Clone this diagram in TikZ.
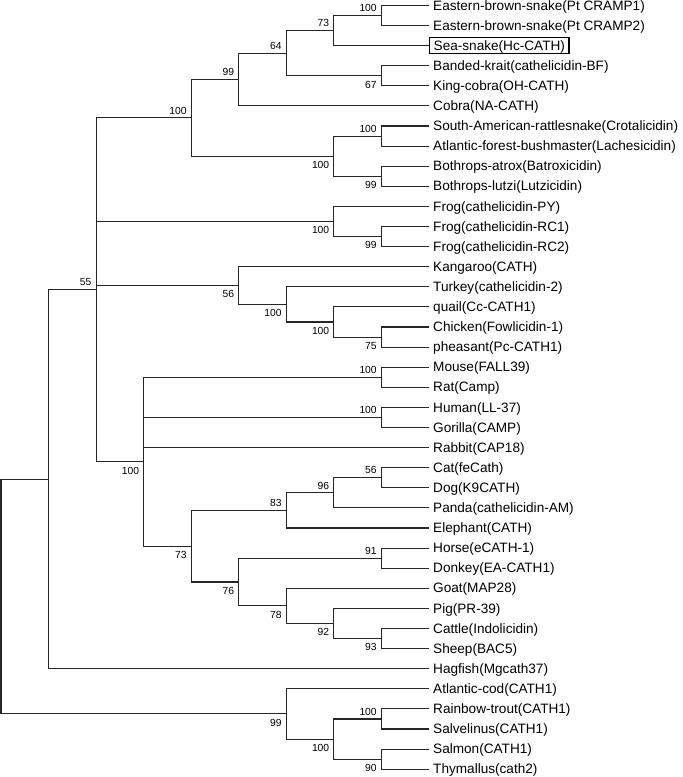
\documentclass[tikz,border=0pt]{standalone}
\usepackage{fontspec}
\setmainfont{Liberation Sans}
\newcommand\Yof[1]{{5.4+20.1*(#1-1)}}
\newcommand\leafnode[3]{%
  \coordinate (#1) at (429,\Yof{#2});
  \node[leaf] (#1t) at (429,{5.4+20.1*(#2-1)+4.6}) {#3};}
\begin{document}
\begin{tikzpicture}[x=1pt,y=-1pt,
  br/.style={line width=1.1pt, black!85},
  leaf/.style={anchor=base west, inner xsep=4pt, inner ysep=0pt, font=\fontsize{13.6}{15}\selectfont},
  boxed/.style={draw, line width=1.4pt, text height=10.6pt, text depth=1.4pt, inner ysep=2pt},
  bsa/.style={anchor=south east, inner sep=0pt, xshift=-4.5pt, yshift=3.5pt, font=\fontsize{10.3}{12}\selectfont},
  bsb/.style={anchor=north east, inner sep=0pt, xshift=-4.5pt, yshift=-5pt, font=\fontsize{10.3}{12}\selectfont}]
\useasboundingbox (0,0) rectangle (683,777);
% leaves
\leafnode{l1}{1}{Eastern-brown-snake(Pt CRAMP1)}
\leafnode{l2}{2}{Eastern-brown-snake(Pt CRAMP2)}
\coordinate (l3) at (429,\Yof{3});
\node[leaf,boxed] (l3t) at (429,{5.4+20.1*2+4.6}) {Sea-snake(Hc-CATH)};
\leafnode{l4}{4}{Banded-krait(cathelicidin-BF)}
\leafnode{l5}{5}{King-cobra(OH-CATH)}
\leafnode{l6}{6}{Cobra(NA-CATH)}
\leafnode{l7}{7}{South-American-rattlesnake(Crotalicidin)}
\leafnode{l8}{8}{Atlantic-forest-bushmaster(Lachesicidin)}
\leafnode{l9}{9}{Bothrops-atrox(Batroxicidin)}
\leafnode{l10}{10}{Bothrops-lutzi(Lutzicidin)}
\leafnode{l11}{11}{Frog(cathelicidin-PY)}
\leafnode{l12}{12}{Frog(cathelicidin-RC1)}
\leafnode{l13}{13}{Frog(cathelicidin-RC2)}
\leafnode{l14}{14}{Kangaroo(CATH)}
\leafnode{l15}{15}{Turkey(cathelicidin-2)}
\leafnode{l16}{16}{quail(Cc-CATH1)}
\leafnode{l17}{17}{Chicken(Fowlicidin-1)}
\leafnode{l18}{18}{pheasant(Pc-CATH1)}
\leafnode{l19}{19}{Mouse(FALL39)}
\leafnode{l20}{20}{Rat(Camp)}
\leafnode{l21}{21}{Human(LL-37)}
\leafnode{l22}{22}{Gorilla(CAMP)}
\leafnode{l23}{23}{Rabbit(CAP18)}
\leafnode{l24}{24}{Cat(feCath)}
\leafnode{l25}{25}{Dog(K9CATH)}
\leafnode{l26}{26}{Panda(cathelicidin-AM)}
\leafnode{l27}{27}{Elephant(CATH)}
\leafnode{l28}{28}{Horse(eCATH-1)}
\leafnode{l29}{29}{Donkey(EA-CATH1)}
\leafnode{l30}{30}{Goat(MAP28)}
\leafnode{l31}{31}{Pig(PR-39)}
\leafnode{l32}{32}{Cattle(Indolicidin)}
\leafnode{l33}{33}{Sheep(BAC5)}
\leafnode{l34}{34}{Hagfish(Mgcath37)}
\leafnode{l35}{35}{Atlantic-cod(CATH1)}
\leafnode{l36}{36}{Rainbow-trout(CATH1)}
\leafnode{l37}{37}{Salvelinus(CATH1)}
\leafnode{l38}{38}{Salmon(CATH1)}
\leafnode{l39}{39}{Thymallus(cath2)}
% internal nodes (y given as fractional leaf index)
\coordinate (npt) at (381.4,\Yof{1.5});
\coordinate (n73) at (333.9,\Yof{2.25});
\coordinate (nbk) at (381.4,\Yof{4.5});
\coordinate (n64) at (286.3,\Yof{3.375});
\coordinate (n99) at (238.8,\Yof{4.6875});
\coordinate (ncl) at (381.4,\Yof{7.5});
\coordinate (nbo) at (381.4,\Yof{9.5});
\coordinate (nvip) at (333.9,\Yof{8.5});
\coordinate (nsn) at (191.2,\Yof{6.59375});
\coordinate (nrc) at (381.4,\Yof{12.5});
\coordinate (nfr) at (333.9,\Yof{11.75});
\coordinate (ncp) at (381.4,\Yof{17.5});
\coordinate (nqu) at (333.9,\Yof{16.75});
\coordinate (nbd) at (286.3,\Yof{15.875});
\coordinate (nka) at (238.8,\Yof{14.9375});
\coordinate (nmr) at (381.4,\Yof{19.5});
\coordinate (nhg) at (381.4,\Yof{21.5});
\coordinate (ncd) at (381.4,\Yof{24.5});
\coordinate (n96) at (333.9,\Yof{25.25});
\coordinate (n83) at (286.3,\Yof{26.125});
\coordinate (nhd) at (381.4,\Yof{28.5});
\coordinate (ncs) at (381.4,\Yof{32.5});
\coordinate (n92) at (333.9,\Yof{31.75});
\coordinate (n78) at (286.3,\Yof{30.875});
\coordinate (n76) at (238.8,\Yof{29.6875});
\coordinate (n73m) at (191.2,\Yof{27.90625});
\coordinate (nmam) at (143.7,\Yof{23.703125});
\coordinate (n95) at (96.1,\Yof{15.1484375});
\coordinate (n47) at (48.6,\Yof{24.57421875});
\coordinate (nrs) at (381.4,\Yof{36.5});
\coordinate (nst) at (381.4,\Yof{38.5});
\coordinate (nf2) at (333.9,\Yof{37.5});
\coordinate (nfi) at (286.3,\Yof{36.25});
\coordinate (root) at (1,\Yof{30.412109375});
% branches
\foreach \p/\c in {npt/l1,npt/l2,n73/npt,n73/l3,nbk/l4,nbk/l5,n64/n73,n64/nbk,n99/n64,n99/l6,
  ncl/l7,ncl/l8,nbo/l9,nbo/l10,nvip/ncl,nvip/nbo,nsn/n99,nsn/nvip,
  nrc/l12,nrc/l13,nfr/l11,nfr/nrc,ncp/l17,ncp/l18,nqu/l16,nqu/ncp,nbd/l15,nbd/nqu,nka/l14,nka/nbd,
  nmr/l19,nmr/l20,nhg/l21,nhg/l22,ncd/l24,ncd/l25,n96/ncd,n96/l26,n83/n96,n83/l27,
  nhd/l28,nhd/l29,ncs/l32,ncs/l33,n92/l31,n92/ncs,n78/l30,n78/n92,n76/nhd,n76/n78,
  n73m/n83,n73m/n76,nmam/nmr,nmam/nhg,nmam/l23,nmam/n73m,
  n95/nsn,n95/nfr,n95/nka,n95/nmam,n47/n95,n47/l34,
  nrs/l36,nrs/l37,nst/l38,nst/l39,nf2/nrs,nf2/nst,nfi/l35,nfi/nf2,root/n47,root/nfi}
  {\draw[br] (\p) |- (\c);}
% bootstrap values
\foreach \n/\v in {npt/100,n73/73,n64/64,n99/99,nsn/100,ncl/100,n95/55,nmr/100,nhg/100,
  ncd/56,n96/96,n83/83,nhd/91,nrs/100}
  {\node[bsa] at (\n) {\v};}
\foreach \n/\v in {nbk/67,nvip/100,nbo/99,nfr/100,nrc/99,nka/56,nbd/100,nqu/100,ncp/75,
  nmam/100,n73m/73,n76/76,n78/78,n92/92,ncs/93,nfi/99,nf2/100,nst/90}
  {\node[bsb] at (\n) {\v};}
\end{tikzpicture}
\end{document}
